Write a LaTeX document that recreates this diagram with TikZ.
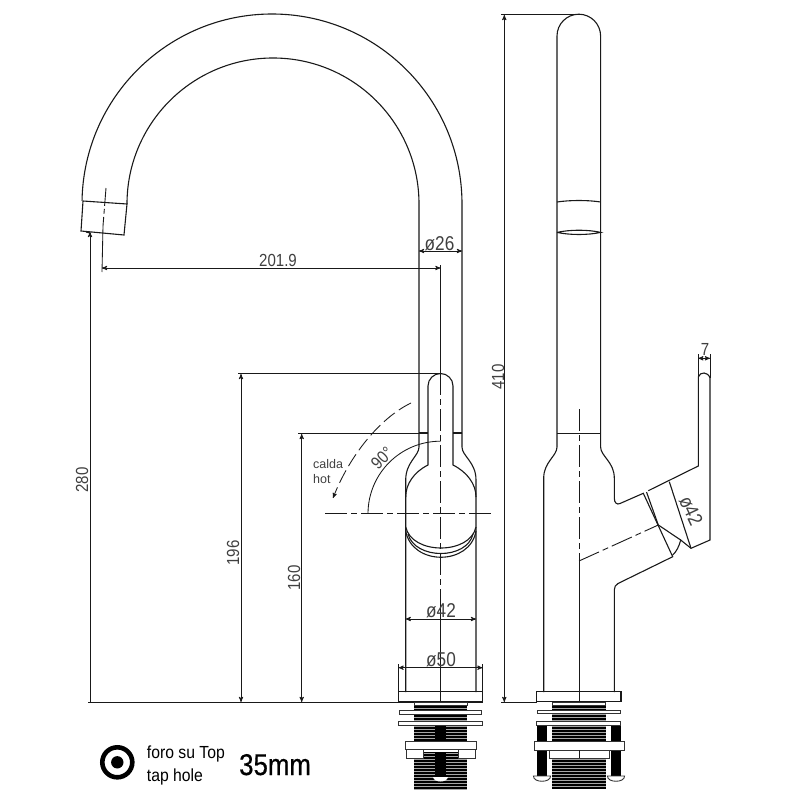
\documentclass[tikz,border=0pt]{standalone}
\usepackage{fontspec}
\setmainfont{Liberation Sans}
\newfontfamily\dimfont[FakeStretch=.86]{Liberation Sans}
\newfontfamily\notefont[FakeStretch=.9]{Liberation Sans}
\newfontfamily\sizefont[FakeStretch=.86,FakeBold=.5]{Liberation Sans}
\usetikzlibrary{arrows}
\tikzset{
    %Define standard arrow tip
    >=stealth',
    %Define style for outlines
    outline/.style={
           draw=black!90,
           line width=1.1pt},
    %Define style for centre lines
    axis/.style={
           draw=black!90,
           line width=.9pt,
           dash pattern=on 22pt off 4pt on 6pt off 4pt},
    % Define dimension styles
    extline/.style={
           draw=black!90,
           line width=.85pt},
    dimline/.style={
           <->,
           draw=black!90,
           line width=.85pt},
    dimlabel/.style={
           inner sep=0pt,
           text=black!75,
           font=\dimfont\fontsize{17.5}{17.5}\selectfont},
    diamlabel/.style={
           dimlabel,
           font=\dimfont\fontsize{20}{20}\selectfont},
    smalllabel/.style={
           inner sep=0pt,
           anchor=base west,
           text=black!75,
           font=\fontsize{12.5}{12.5}\selectfont},
    notelabel/.style={
           inner sep=0pt,
           anchor=base west,
           font=\notefont\fontsize{17.5}{17.5}\selectfont},
    washer/.style={
           draw=black!80,
           line width=.9pt,
           fill=white},
    bolt/.style={
           fill=black},
    thread/.style={
           draw=black!35,
           line width=.2pt}
}

\begin{document}
\begin{tikzpicture}[x=1pt,y=-1pt]
\useasboundingbox (0,0) rectangle (800,800);

 %spout
\draw[outline] (462,433) -- (462,204) arc[start angle=0,end angle=-179,radius=190];
\draw[outline] (419,433) -- (419,204) arc[start angle=0,end angle=-180,radius=146];
\draw[outline] (83,201) -- (127,204) -- (124,235) -- (81,231) -- cycle;
\draw[outline] (86,232) -- (90,233);
\draw[axis,dash pattern=on 18pt off 3pt on 5pt off 3pt] (106,188) -- (103,226);
\draw[extline] (103,226) -- (102,272);

 %front view, body
\draw[outline] (419,433) -- (428,433) (453,433) -- (462,433);
\draw[outline] (419,433) -- (419,447) .. controls (419,456) and (405.7,462) .. (405.7,480) -- (405.7,692);
\draw[outline] (462,433) -- (462,447) .. controls (462,456) and (476,462) .. (476,480) -- (476,692);
 %front view, handle
\draw[outline] (405.7,497) .. controls (405.7,484) and (414,472) .. (428,465) -- (428,386)
    arc[start angle=180,end angle=360,radius=12.5] -- (453,465)
    .. controls (467,472) and (476,484) .. (476,497);
\draw[outline] (405.7,527) .. controls (412,555) and (470,555) .. (476,527);
\draw[outline] (408,534) .. controls (415,560) and (467,560) .. (473,534);
\draw[outline] (405.7,531) .. controls (412,566) and (470,566) .. (476,531);
\draw[axis] (440.5,373) -- (440.5,612);
\draw[extline] (440.5,600) -- (440.5,702);
\draw[axis] (325,513.7) -- (491,513.7);

 %rotation marks
\draw[extline] (368,513.7) arc[start angle=180,end angle=270,radius=72.5];
\draw[->,extline,dash pattern=on 14pt off 5pt] (411,403) .. controls (380,418) and (350,455) .. (333,498);
\node[dimlabel,rotate=45] (angle) at (382,458) {90°};
\node[smalllabel] (calda) at (313,468) {calda};
\node[smalllabel] (hot) at (313,483) {hot};

 %front view, dimensions
\draw[extline] (88,702) -- (398,702);
\draw[extline] (440.5,265) -- (440.5,373);
\draw[extline] (238,373.5) -- (440.5,373.5);
\draw[extline] (298,433.5) -- (419,433.5);
\draw[dimline] (102,268) -- (440.5,268);
\draw[dimline] (419,251) -- (462,251);
\draw[dimline] (405.7,619) -- (476,619);
\draw[extline] (398.5,664) -- (398.5,702) (482.5,664) -- (482.5,702);
\draw[dimline] (398.5,667.7) -- (482.5,667.7);
\draw[->,extline] (90,702) -- (90,232);
\draw[dimline] (241,374) -- (241,702);
\draw[dimline] (301.7,434) -- (301.7,702);
\node[dimlabel] (len) at (278,260.5) {201.9};
\node[diamlabel] (tube) at (439.5,243.5) {ø26};
\node[diamlabel] (neck) at (441,611) {ø42};
\node[diamlabel] (base) at (441,660) {ø50};
\node[dimlabel,rotate=90] (drop) at (82,480) {280};
\node[dimlabel,rotate=90] (top) at (233,553) {196};
\node[dimlabel,rotate=90] (low) at (294,578) {160};

 %front view, fixing
\draw[outline] (398.5,691.7) rectangle (482.5,702);
\fill[bolt] (414,705) rectangle (467,790);
\foreach \y in {708,711,...,789}
    \draw[thread] (414,\y) -- (467,\y);
\fill[bolt] (435,725) rectangle (445.7,776);
\draw[washer] (414,702) rectangle (467,705);
\draw[washer] (399,710) rectangle (481.7,714);
\draw[washer] (398.5,721.7) rectangle (482.5,725);
\draw[washer] (405,741.7) rectangle (476,749);
\draw[washer] (406,749) rectangle (423,758);
\draw[washer] (458,749) rectangle (475,758);
\fill[white] (423.5,749.5) rectangle (457.5,752);
\fill[white] (433,777) -- (448,777) .. controls (447,783) and (434,783) .. (433,777);

 %side view, column
\draw[outline] (543.7,692) -- (543.7,478) .. controls (543.7,462) and (557,456) .. (557,447)
    -- (557,36) arc[start angle=180,end angle=360,radius=21.8] -- (600.6,447)
    .. controls (600.6,456) and (614.3,462) .. (614.3,478) -- (614.3,498)
    .. controls (614.3,503) and (617,505) .. (620,503.5) -- (643.3,493.3) -- (672.7,556.7)
    -- (618,583.5) .. controls (615.5,585) and (614.3,587) .. (614.3,590) -- (614.3,692);
\draw[outline] (557,433.3) -- (600.6,433.3);
\draw[outline] (557,202) .. controls (570,200) and (588,200) .. (600.6,202);
\draw[outline] (557,232.4) .. controls (570,229.5) and (588,229.5) .. (600.6,232.4)
    .. controls (588,235.2) and (570,235.2) .. (557,232.4);
\draw[axis] (579,409) -- (579,561);
\draw[extline] (579,561) -- (579,702);
\draw[axis] (579,561) -- (658.3,525);

 %side view, lever
\draw[outline] (646.5,492) -- (658.3,525) -- (680.7,540);
\draw[outline] (648.3,490.7) -- (698.3,466) -- (698.3,377)
    .. controls (700,371.5) and (708,371.5) .. (710,378) -- (710,540) -- (691,548.3) -- (680.7,540)
    .. controls (679,547) and (676,552) .. (672.7,555);
\draw[outline] (669.3,481.7) -- (691,548.3);

 %side view, dimensions
\draw[extline] (501,14.3) -- (578,14.3);
\draw[extline] (501,702) -- (537,702);
\draw[dimline] (504.3,15) -- (504.3,702);
\draw[extline] (698.3,354) -- (698.3,377) (710,354) -- (710,378);
\draw[dimline] (698.3,358.3) -- (710,358.3);
\node[dimlabel] (lever) at (705,349) {7};
\node[dimlabel,rotate=90] (height) at (498,377) {410};
\node[diamlabel,rotate=-65] (head) at (691,511) {ø42};

 %side view, fixing
\draw[outline] (536.7,691.7) rectangle (621,701.7);
\fill[bolt] (552.3,705) rectangle (605.7,789.3);
\foreach \y in {708,711,...,788}
    \draw[thread] (552.3,\y) -- (605.7,\y);
\fill[bolt] (536.7,725) rectangle (547.3,776);
\fill[bolt] (610.7,725) rectangle (621,776);
\draw[washer] (552.3,702) rectangle (605.7,705);
\draw[washer] (537.3,710) rectangle (620,713.7);
\draw[washer] (536.7,721.7) rectangle (620.7,725);
\draw[washer] (534,741.7) rectangle (624,750.3);
\draw[washer] (549.3,750.3) rectangle (609.3,758);
\draw[extline] (579,750.3) -- (579,758);
\draw[washer] (533.5,776) .. controls (533,783) and (551,783) .. (550.5,776) -- cycle;
\draw[washer] (607.5,776) .. controls (607,783) and (625,783) .. (624.5,776) -- cycle;

 %tap hole note
\draw[black,line width=4.6pt] (117.3,762.3) circle[radius=15];
\fill[black] (117.3,762.3) circle[radius=6.2];
\node[notelabel] (foro) at (146.7,758) {foro su Top};
\node[notelabel] (taphole) at (146.7,781.7) {tap hole};
\node[notelabel,font=\sizefont\fontsize{30}{30}\selectfont] (size) at (239,775) {35mm};

\end{tikzpicture}
\end{document}
